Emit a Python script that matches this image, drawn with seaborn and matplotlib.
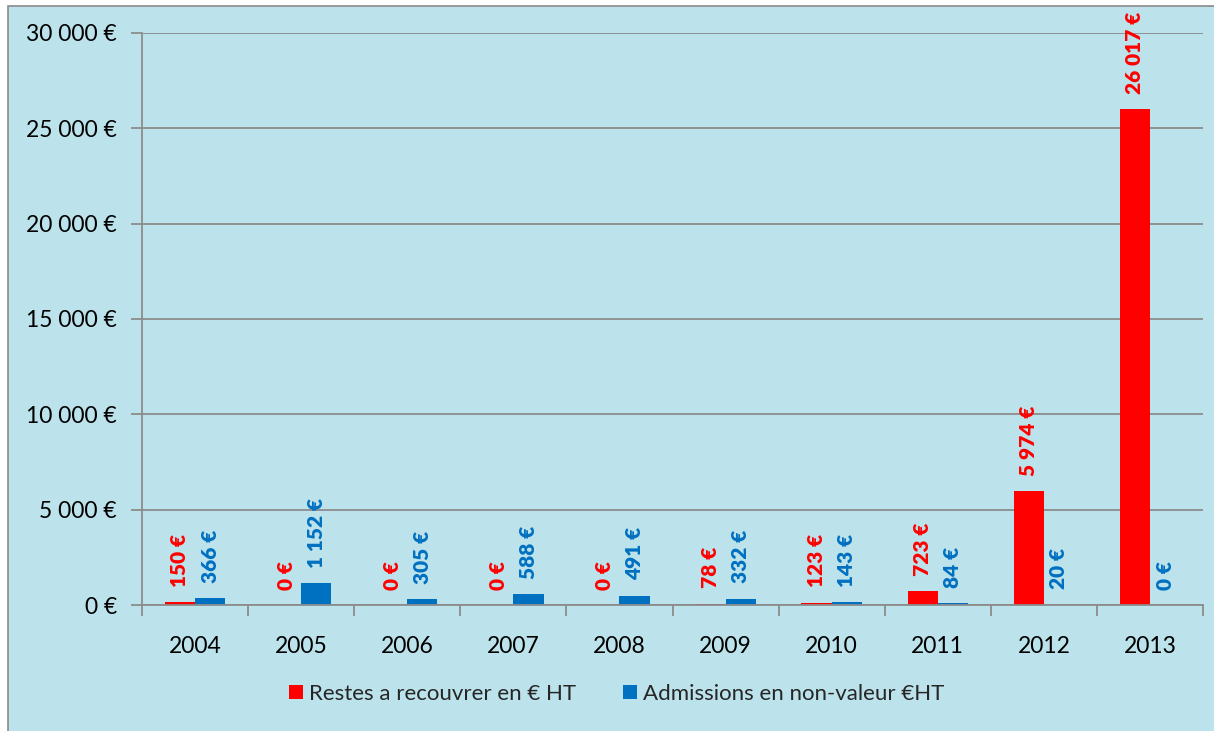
import numpy as np
import pandas as pd
import seaborn as sns
import matplotlib.pyplot as plt
from matplotlib.patches import Rectangle
from matplotlib.ticker import FuncFormatter, FixedLocator

# Data
years = ["2004", "2005", "2006", "2007", "2008", "2009", "2010", "2011", "2012", "2013"]
restes = [150, 0, 0, 0, 0, 78, 123, 723, 5974, 26017]
admissions = [366, 1152, 305, 588, 491, 332, 143, 84, 20, 0]
series_names = ["Restes a recouvrer en € HT", "Admissions en non-valeur €HT"]
series_colors = ["#ff0000", "#0070c0"]

sns.set_theme(style="white")
plt.rcParams['font.family'] = ['Lato', 'DejaVu Sans']

df = pd.DataFrame({
    "year": years * 2,
    "value": restes + admissions,
    "serie": [series_names[0]] * len(years) + [series_names[1]] * len(years),
})

fig = plt.figure(figsize=(12.14, 7.31), dpi=100)
fig.patch.set_facecolor("white")
# chart area background (light water blue)
bg = Rectangle((8 / 1214, -0.01), 1.0, 1 - 6 / 731 + 0.01,
               transform=fig.transFigure, facecolor="#bce3ec",
               edgecolor="#8a8a8a", linewidth=1.2, zorder=-10)
fig.patches.append(bg)

ax = fig.add_axes([142 / 1214, 1 - 605 / 731, (1203 - 142) / 1214, (605 - 33) / 731])
ax.set_facecolor("none")
ax.set_zorder(1)

sns.barplot(data=df, x="year", y="value", hue="serie", palette=series_colors,
            width=0.57, saturation=1, linewidth=0, ax=ax, legend=True)

ax.set_ylim(0, 30000)
ax.set_xlim(-0.5, len(years) - 0.5)
ax.yaxis.set_major_locator(FixedLocator(np.arange(0, 30001, 5000)))
ax.yaxis.set_major_formatter(FuncFormatter(lambda v, p: f"{int(v):,} €".replace(",", " ")))
ax.grid(axis="y", color="#8c8c8c", linewidth=1.3)
ax.set_axisbelow(True)
ax.set_xlabel("")
ax.set_ylabel("")

for s in ["top", "right"]:
    ax.spines[s].set_visible(False)
for s in ["left", "bottom"]:
    ax.spines[s].set_color("#8c8c8c")
    ax.spines[s].set_linewidth(1.3)

# tick marks between categories, labels centered
ax.set_xticks(np.arange(-0.5, len(years), 1.0))
ax.set_xticklabels([])
ax.set_xticks(np.arange(len(years)), minor=True)
ax.set_xticklabels(years, minor=True)
ax.tick_params(axis="x", which="major", length=8, color="#8c8c8c", width=1.3, direction="out", bottom=True)
ax.tick_params(axis="x", which="minor", length=0, pad=22, labelsize=16.5, labelcolor="black")
ax.tick_params(axis="y", length=8, color="#8c8c8c", width=1.3, direction="out", left=True,
               labelsize=16.5, labelcolor="black", pad=10)

# value labels
for container, color in zip(ax.containers, series_colors):
    for bar in container:
        h = bar.get_height()
        ax.annotate(f"{int(h):,} €".replace(",", " "),
                    xy=(bar.get_x() + bar.get_width() / 2, h),
                    xytext=(0, 11), textcoords="offset points",
                    rotation=90, ha="center", va="bottom",
                    color=color, fontsize=15, fontweight="heavy",
                    annotation_clip=False)

# legend centred under the whole chart, not the plot area
handles, labels = ax.get_legend_handles_labels()
ax.get_legend().remove()
fig.legend(handles, labels, loc="center", bbox_to_anchor=(617 / 1214, 1 - 694 / 731),
           ncol=2, frameon=False, fontsize=16, handlelength=0.6, handleheight=0.6,
           handletextpad=0.3, columnspacing=2.1)

fig.savefig("out.png", dpi=100)
